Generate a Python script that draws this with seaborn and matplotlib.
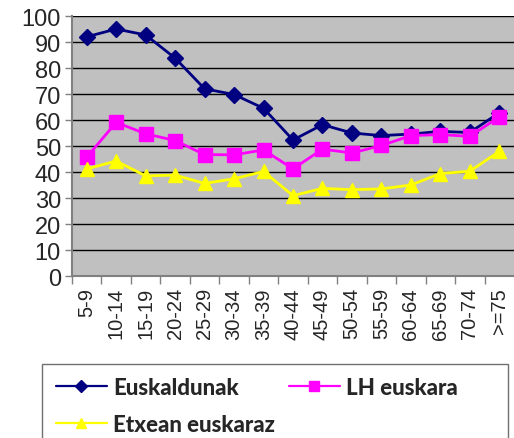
import matplotlib
matplotlib.use("Agg")
import matplotlib.pyplot as plt
from matplotlib.lines import Line2D
from matplotlib.patches import Rectangle
import pandas as pd
import seaborn as sns

ages = ["5-9", "10-14", "15-19", "20-24", "25-29", "30-34", "35-39", "40-44",
        "45-49", "50-54", "55-59", "60-64", "65-69", "70-74", ">=75"]
euskaldunak = [92.0, 95.0, 92.7, 83.8, 72.0, 69.8, 64.5, 52.3, 58.2, 55.0,
               54.0, 54.6, 55.6, 55.2, 62.8]
lh_euskara = [45.7, 59.1, 54.7, 52.1, 46.7, 46.6, 48.5, 41.2, 48.8, 47.3,
              50.2, 54.0, 54.4, 53.7, 61.2]
etxean = [41.2, 44.2, 38.5, 38.8, 35.6, 37.4, 40.2, 30.9, 33.7, 33.2,
          33.5, 35.0, 39.4, 40.3, 47.9]

series = [
    ("Euskaldunak", euskaldunak, "#000080", "D", 8),
    ("LH euskara", lh_euskara, "#FF00FF", "s", 10),
    ("Etxean euskaraz", etxean, "#FFFF00", "^", 10),
]

sns.set_style("white")
plt.rcParams["font.family"] = ["Liberation Sans", "DejaVu Sans"]

fig = plt.figure(figsize=(5.14, 4.39), dpi=100)
ax = fig.add_axes([72 / 514, 1 - 277 / 439, 1 - 72 / 514, 260 / 439])
ax.set_facecolor("#C0C0C0")

pos = list(range(len(ages)))
handles = {}
for name, vals, color, marker, ms in series:
    df = pd.DataFrame({"pos": pos, "value": vals})
    sns.lineplot(data=df, x="pos", y="value", ax=ax, color=color, lw=2,
                 marker=marker, markersize=ms, markeredgecolor=color,
                 markeredgewidth=1, legend=False, zorder=3)
    handles[name] = Line2D([], [], color=color, lw=1.6, marker=marker,
                           markersize=ms * 0.75, markeredgecolor=color,
                           label=name)

ax.set_xlim(-0.5, len(ages) - 0.5)
ax.set_ylim(0, 100)
ax.set_yticks(range(0, 101, 10))
ax.yaxis.grid(True, color="black", lw=1)
ax.set_axisbelow(True)
ax.set_xlabel("")
ax.set_ylabel("")

ax.set_xticks(pos)
ax.set_xticklabels(ages, rotation=90, fontsize=14.5)
ax.set_xticks([p - 0.5 for p in pos], minor=True)
ax.tick_params(axis="x", which="major", length=0, pad=8)
ax.tick_params(axis="x", which="minor", length=6, width=1, color="#808080",
               bottom=True)
ax.tick_params(axis="y", labelsize=17, length=5, width=1, color="#808080",
               left=True, pad=3)

for side in ["top", "right"]:
    ax.spines[side].set_visible(False)
ax.spines["left"].set_color("#808080")
ax.spines["left"].set_linewidth(1.5)
ax.spines["bottom"].set_color("#808080")
ax.spines["bottom"].set_linewidth(1.5)

# legend box, cut off at the bottom edge like the original
fig.patches.append(Rectangle((42 / 514, -0.05), (508 - 42) / 514,
                             0.05 + 1 - 365 / 439, transform=fig.transFigure,
                             fill=False, edgecolor="#707070", lw=1))
# column-wise fill: first column Euskaldunak / Etxean, second LH euskara
order = ["Euskaldunak", "Etxean euskaraz", "LH euskara"]
fig.legend(handles=[handles[k] for k in order], loc="upper left",
           bbox_to_anchor=(40 / 514, 1 - 362 / 439), ncol=2, frameon=False,
           prop={"family": "Lato", "weight": "black", "size": 16},
           handlelength=2.3, handletextpad=0.3, columnspacing=0.6,
           labelspacing=0.75, borderpad=0.2)

fig.savefig("out.png", dpi=100)
